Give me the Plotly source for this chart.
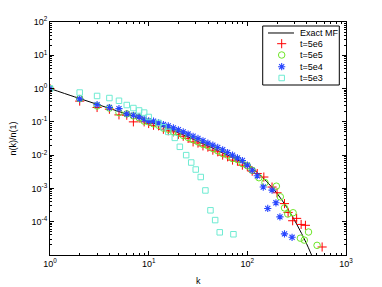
import plotly.graph_objects as go

# Exact mean-field curve
mf_k = [1, 1.78, 3.16, 5.62, 10, 17.8, 31.6, 56.2, 100, 126, 158, 200, 251, 316, 398, 501]
mf_n = [1, 0.562, 0.32, 0.182, 0.105, 0.055, 0.0257, 0.01175, 0.0050, 0.0030, 0.00158,
        0.00071, 0.00027, 8.5e-5, 2.2e-5, 4.5e-6]

# t = 5e6 (red +)
r_k = [1, 2, 3, 4, 5, 6, 7, 8, 9, 10,
       11.2, 12.6, 14.1, 15.8, 17.8, 20.0, 22.4, 25.1, 28.2, 31.6, 35.5, 39.8, 44.7, 50.1,
       56.2, 63.1, 70.8, 79.4, 89.1, 100, 112, 126,
       147, 178, 200, 238, 259, 288, 316, 351, 388, 573]
r_n = [1, 0.42, 0.27, 0.24, 0.162, 0.158, 0.10, 0.13, 0.10, 0.089,
       0.079, 0.076, 0.060, 0.054, 0.050, 0.042, 0.037, 0.032, 0.025, 0.023, 0.019, 0.0174,
       0.0141, 0.0126, 0.0100, 0.0089, 0.0071, 0.0066, 0.0050, 0.0045, 0.0033, 0.0028,
       0.0022, 0.0011, 0.00074, 0.00035, 0.00019, 0.000107, 0.000126, 8.3e-5, 7.8e-5, 1.74e-5]

# t = 5e5 (green o)
g_k = [1, 2, 3, 4, 5, 6, 7, 8, 9, 10,
       11.2, 12.6, 14.1, 15.8, 17.8, 20.0, 22.4, 25.1, 28.2, 31.6, 35.5, 39.8, 44.7, 50.1,
       56.2, 63.1, 70.8, 79.4, 89.1, 100, 112,
       131, 151, 197, 216, 238, 257, 291, 345, 378, 417, 509]
g_n = [1, 0.50, 0.30, 0.26, 0.19, 0.174, 0.151, 0.132, 0.105, 0.10,
       0.087, 0.079, 0.065, 0.060, 0.051, 0.047, 0.039, 0.034, 0.029, 0.025, 0.021, 0.019,
       0.0158, 0.0135, 0.0112, 0.0100, 0.0079, 0.0074, 0.0056, 0.0048, 0.0035,
       0.0021, 0.0015, 0.00117, 0.00056, 0.00026, 0.00017, 0.000186, 3.2e-5, 2.8e-5, 4.9e-5, 1.95e-5]

# t = 5e4 (blue *)
b_k = [1, 2, 3, 4, 5, 6, 7, 8, 9, 10,
       11.2, 12.6, 14.1, 15.8, 17.8, 20.0, 22.4, 25.1, 28.2, 31.6, 35.5, 39.8, 44.7, 50.1,
       56.2, 63.1, 70.8, 79.4, 89.1, 100,
       112, 126, 145, 161, 178, 195, 214, 238, 284]
b_n = [1, 0.49, 0.33, 0.27, 0.25, 0.174, 0.158, 0.141, 0.120, 0.107,
       0.105, 0.093, 0.083, 0.076, 0.066, 0.058, 0.050, 0.043, 0.037, 0.032, 0.027, 0.023,
       0.020, 0.017, 0.0145, 0.012, 0.010, 0.0083, 0.0069, 0.0050,
       0.0035, 0.0024, 0.0011, 0.00025, 0.00089, 0.00037, 0.00014, 4.3e-5, 3.4e-5]

# t = 5e3 (cyan squares)
c_k = [1, 2, 3, 4, 5, 6, 7, 8, 9, 10,
       12.6, 14.1, 15.8, 18.4, 20.7, 24, 27, 30, 33.7, 37.6, 42.3, 47.2, 52.5, 72.3]
c_n = [1, 0.76, 0.60, 0.52, 0.43, 0.32, 0.26, 0.22, 0.19, 0.14,
       0.093, 0.069, 0.050, 0.033, 0.0178, 0.010, 0.0060, 0.0037, 0.0022, 0.00087,
       0.00022, 0.000112, 4.8e-5, 4.2e-5]

legend_names = ["Exact MF", "t=5e6", "t=5e5", "t=5e4", "t=5e3"]

x_tickvals = [1, 10, 100, 1000]
x_ticktext = ["10<sup>0</sup>", "10<sup>1</sup>", "10<sup>2</sup>", "10<sup>3</sup>"]
y_tickvals = [1e-4, 1e-3, 1e-2, 1e-1, 1, 10, 100]
y_ticktext = ["10<sup>-4</sup>", "10<sup>-3</sup>", "10<sup>-2</sup>", "10<sup>-1</sup>",
              "10<sup>0</sup>", "10<sup>1</sup>", "10<sup>2</sup>"]

font_family = "Liberation Sans, Arial, Helvetica, sans-serif"
RED = "rgb(255,0,0)"
GREEN = "rgb(110,230,40)"
BLUE = "rgb(40,70,255)"
CYAN = "rgb(110,235,210)"

styles = [
    dict(symbol="cross-thin-open", size=6.5, color=RED, line=dict(color=RED, width=1)),
    dict(symbol="circle-open", size=6.5, color=GREEN, line=dict(color=GREEN, width=1)),
    dict(symbol="asterisk-open", size=6, color=BLUE, line=dict(color=BLUE, width=1.1)),
    dict(symbol="square-open", size=5.5, color=CYAN, line=dict(color=CYAN, width=1)),
]

fig = go.Figure()
fig.add_trace(go.Scatter(x=mf_k, y=mf_n, mode="lines", name=legend_names[0],
                         line=dict(color="black", width=1, shape="spline"), showlegend=False))
for (kk, nn), name, st in zip([(r_k, r_n), (g_k, g_n), (b_k, b_n), (c_k, c_n)],
                              legend_names[1:], styles):
    fig.add_trace(go.Scatter(x=kk, y=nn, mode="markers", name=name, marker=st,
                             showlegend=False))

# ---- hand-made compact legend (MATLAB style) on an overlay axis in [0,1] units ----
box_x0, box_x1, box_y0, box_y1 = 0.7186, 0.9774, 0.7296, 0.9828
row_y = [0.9528, 0.9069, 0.8584, 0.8082, 0.7597]
sample_x0, sample_x1, marker_x, text_x = 0.7365, 0.8243, 0.7827, 0.8378

shapes = [
    dict(type="rect", xref="paper", yref="paper", x0=box_x0, x1=box_x1, y0=box_y0, y1=box_y1,
         line=dict(color="black", width=1), fillcolor="white", layer="below"),
    dict(type="line", xref="paper", yref="paper", x0=sample_x0, x1=sample_x1,
         y0=row_y[0], y1=row_y[0], line=dict(color="black", width=1)),
]
for i, st in enumerate(styles):
    fig.add_trace(go.Scatter(x=[marker_x], y=[row_y[i + 1]], mode="markers", marker=st,
                             xaxis="x2", yaxis="y2", showlegend=False, hoverinfo="skip",
                             cliponaxis=False))

annotations = [
    dict(x=text_x, y=row_y[i], xref="paper", yref="paper", text=name, showarrow=False,
         xanchor="left", yanchor="middle",
         font=dict(family=font_family, size=9, color="black"))
    for i, name in enumerate(legend_names)
]
# axis titles as annotations (fixed positions, no automargin)
annotations.append(dict(x=0.5, y=-0.08, xref="paper", yref="paper", text="k",
                        showarrow=False, xanchor="center", yanchor="top",
                        font=dict(family=font_family, size=9, color="black")))
annotations.append(dict(x=-0.128, y=0.5, xref="paper", yref="paper", text="n(k)/n(1)",
                        showarrow=False, xanchor="center", yanchor="middle", textangle=-90,
                        font=dict(family=font_family, size=9, color="black")))

axis_common = dict(type="log", showgrid=False, zeroline=False, showline=True,
                   linecolor="black", linewidth=1, mirror="allticks", automargin=False,
                   ticks="inside", ticklen=4, tickcolor="black", tickwidth=1,
                   tickfont=dict(family=font_family, size=9, color="black"),
                   minor=dict(ticks="inside", ticklen=2, tickcolor="black", dtick="D1",
                              showgrid=False))

fig.update_layout(
    xaxis=dict(**axis_common, range=[0, 3], tickvals=x_tickvals, ticktext=x_ticktext),
    yaxis=dict(**axis_common, range=[-5, 2], tickvals=y_tickvals, ticktext=y_ticktext),
    xaxis2=dict(overlaying="x", range=[0, 1], visible=False, anchor="y2"),
    yaxis2=dict(overlaying="y", range=[0, 1], visible=False, anchor="x2"),
    width=382, height=287,
    margin=dict(l=50, r=36, t=22, b=32, autoexpand=False),
    paper_bgcolor="white", plot_bgcolor="white",
    font=dict(family=font_family, size=9, color="black"),
    shapes=shapes,
    annotations=annotations,
    showlegend=False,
)

fig.write_html("out.html", config={"displayModeBar": False},
               post_script="document.body.style.margin='0';document.body.style.overflow='hidden';")
